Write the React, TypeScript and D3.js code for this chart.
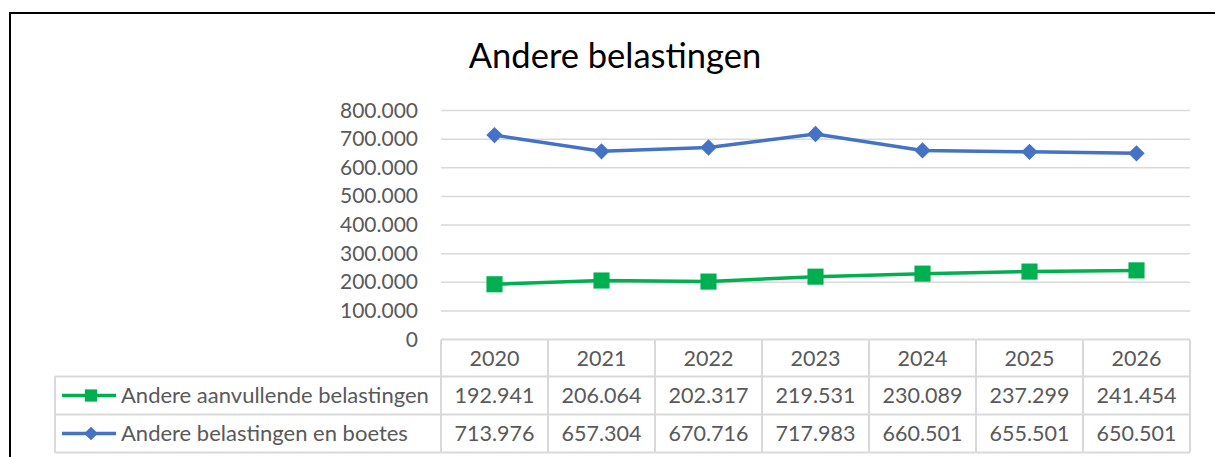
import React, { useEffect, useRef } from 'react'
import * as d3 from 'd3'

const years = ['2020', '2021', '2022', '2023', '2024', '2025', '2026']
const aanvullend = [192941, 206064, 202317, 219531, 230089, 237299, 241454]
const boetes = [713976, 657304, 670716, 717983, 660501, 655501, 650501]
const yTicks = [0, 100000, 200000, 300000, 400000, 500000, 600000, 700000, 800000]
const seriesNames = ['Andere aanvullende belastingen', 'Andere belastingen en boetes']

const fmt = (v: number) => (v === 0 ? '0' : d3.format(',')(v).replace(/,/g, '.'))

const App = () => {
  const ref = useRef<SVGSVGElement>(null)
  useEffect(() => {
    document.body.style.margin = '0'
    const svg = d3.select(ref.current)
    svg.selectAll('*').remove()
    const font = 'Lato, Calibri, sans-serif'
    const grey = '#595959'
    const gridC = '#D9D9D9'

    const x = d3.scaleBand().domain(years).range([441, 1190])
    const y = d3.scaleLinear().domain([0, 800000]).range([339.5, 110.5])

    // frame
    svg.append('path').attr('d', 'M10,458 L10,13 L1216,13')
      .attr('fill', 'none').attr('stroke', '#000').attr('stroke-width', 2)

    svg.append('text').attr('x', 615).attr('y', 68).attr('text-anchor', 'middle')
      .style('font-family', font).style('font-size', '34.5px').attr('fill', '#000')
      .text('Andere belastingen')

    // gridlines + y labels
    svg.append('g').selectAll('line').data(yTicks.filter(d => d > 0)).join('line')
      .attr('x1', 441).attr('x2', 1190).attr('y1', d => y(d)).attr('y2', d => y(d))
      .attr('stroke', gridC).attr('stroke-width', 1.5)
    svg.append('g').selectAll('text').data(yTicks).join('text')
      .attr('x', 418).attr('y', d => y(d) + 7).attr('text-anchor', 'end')
      .style('font-family', font).style('font-size', '21px').attr('fill', grey)
      .text(d => fmt(d))

    // table
    const rowTop = [339.5, 376.5, 414.5, 452.5]
    const tbl = svg.append('g').attr('stroke', gridC).attr('stroke-width', 2)
    tbl.append('line').attr('x1', 441).attr('x2', 1190).attr('y1', rowTop[0]).attr('y2', rowTop[0])
    rowTop.slice(1).forEach(r => {
      tbl.append('line').attr('x1', 55).attr('x2', 1190).attr('y1', r).attr('y2', r)
    })
    tbl.append('line').attr('x1', 55).attr('x2', 55).attr('y1', rowTop[1]).attr('y2', rowTop[3])
    ;[...years.map(d => x(d) as number), 1190].forEach(v => {
      tbl.append('line').attr('x1', v).attr('x2', v).attr('y1', rowTop[0]).attr('y2', rowTop[3])
    })

    const cellText = (vals: string[], row: number) => {
      svg.append('g').selectAll('text').data(vals).join('text')
        .attr('x', (_, i) => (x(years[i]) as number) + x.bandwidth() / 2)
        .attr('y', (rowTop[row] + rowTop[row + 1]) / 2 + 7.5)
        .attr('text-anchor', 'middle')
        .style('font-family', font).style('font-size', '21.5px').attr('fill', grey)
        .text(d => d)
    }
    cellText(years, 0)
    cellText(aanvullend.map(fmt), 1)
    cellText(boetes.map(fmt), 2)

    const series = [
      { name: seriesNames[0], vals: aanvullend, color: '#00B050', shape: 'square' },
      { name: seriesNames[1], vals: boetes, color: '#4472C4', shape: 'diamond' },
    ]
    const sym = (s: string, size: number) =>
      s === 'square' ? d3.symbol(d3.symbolSquare, size)() : d3.symbol(d3.symbolDiamond2, size)()
    const cx = (i: number) => (x(years[i]) as number) + x.bandwidth() / 2

    series.forEach((s, k) => {
      const line = d3.line<number>().x((_, i) => cx(i)).y(d => y(d))
      svg.append('path').datum(s.vals).attr('d', line)
        .attr('fill', 'none').attr('stroke', s.color).attr('stroke-width', 3.5)
      svg.append('g').selectAll('path').data(s.vals).join('path')
        .attr('transform', (d, i) => `translate(${cx(i)},${y(d)})`)
        .attr('d', sym(s.shape, s.shape === 'square' ? 260 : 170) as string)
        .attr('fill', s.color)

      // legend in table
      const ly = (rowTop[k + 1] + rowTop[k + 2]) / 2
      svg.append('line').attr('x1', 62).attr('x2', 116).attr('y1', ly).attr('y2', ly)
        .attr('stroke', s.color).attr('stroke-width', 3.5)
      svg.append('path').attr('transform', `translate(91,${ly})`)
        .attr('d', sym(s.shape, s.shape === 'square' ? 150 : 120) as string).attr('fill', s.color)
      svg.append('text').attr('x', 121).attr('y', ly + 7.5)
        .style('font-family', font).style('font-size', '22px').attr('fill', grey)
        .text(s.name)
    })
  }, [])
  return <svg ref={ref} width={1215} height={457} style={{ display: 'block' }} />
}

export default App
